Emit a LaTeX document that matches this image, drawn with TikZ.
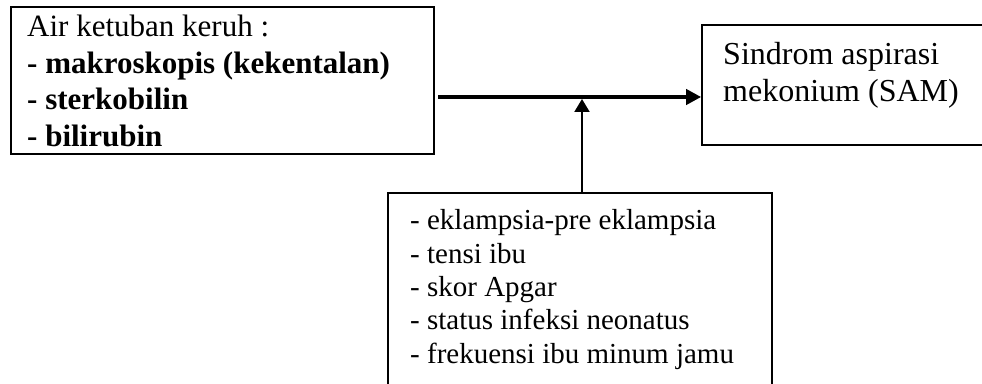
\documentclass[tikz,border=0pt]{standalone}
\usepackage{fontspec}
\setmainfont{Liberation Serif}
\usetikzlibrary{arrows.meta}
\begin{document}
\begin{tikzpicture}[x=1pt,y=1pt,
  box/.style={draw=black,rectangle,inner sep=0pt,fill=none},
  boxtext/.style={inner sep=0pt,anchor=base west,align=left},
  flow/.style={line width=4pt,-{Triangle[length=15pt,width=15pt]}},
  factor/.style={line width=2pt,-{Triangle[length=13pt,width=15pt]}}]
  \useasboundingbox (0,0) rectangle (982,383);
  \clip (0,0) rectangle (982,383);
  \fill[white] (0,0) rectangle (982,383);

  % boxes
  \node[box,line width=2.5pt,minimum width=423pt,minimum height=147pt]
    (cause) at (222.5,302.5) {};
  \node[box,line width=1.6pt,minimum width=288pt,minimum height=120pt]
    (sam) at (846,298) {};
  \node[box,line width=1.6pt,minimum width=384pt,minimum height=207pt]
    (risk) at (580,86.5) {};

  % texts (anchored at the baseline of their last line)
  \node[boxtext,font=\fontsize{31}{36.7}\selectfont] (causetext) at (27,236.3)
    {Air ketuban keruh :\\
     \textbf{- makroskopis (kekentalan)}\\
     \textbf{- sterkobilin}\\
     \textbf{- bilirubin}};
  \node[boxtext,font=\fontsize{32}{37}\selectfont] (samtext) at (723,281)
    {Sindrom aspirasi\\ mekonium (SAM)};
  \node[boxtext,font=\fontsize{29}{33.3}\selectfont] (risktext) at (410,20)
    {- eklampsia-pre eklampsia\\
     - tensi ibu\\
     - skor Apgar\\
     - status infeksi neonatus\\
     - frekuensi ibu minum jamu};

  % connectors
  \coordinate (join) at (582,286);
  \draw[flow,shorten <=3pt] (cause.east |- join) -- (sam.west |- join);
  \draw[factor] (risk.north -| join) -- ([yshift=-2pt]join);
\end{tikzpicture}
\end{document}
